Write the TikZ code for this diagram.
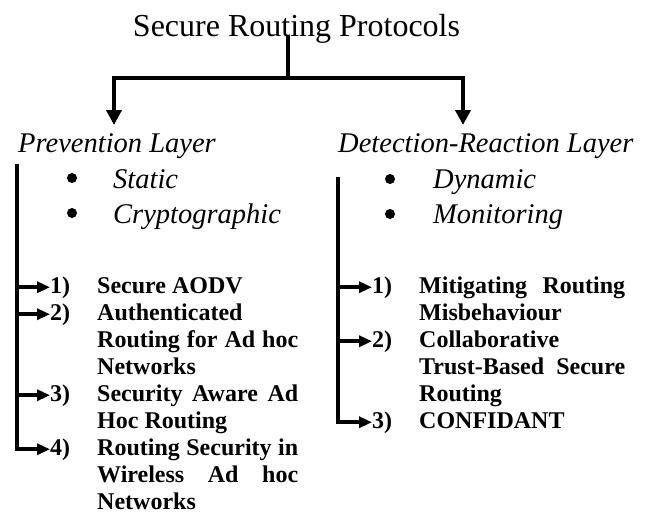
\documentclass[tikz,border=0pt]{standalone}
\usepackage{fontspec}
\setmainfont{Liberation Serif}
\usetikzlibrary{arrows.meta}
\newcommand\leftjust[1]{\makebox[201pt][s]{#1}}
\newcommand\rightjust[1]{\makebox[206pt][s]{#1}}
\begin{document}
\begin{tikzpicture}[x=1pt,y=-1pt,
  bigline/.style={line width=4.5pt},
  bigarrow/.style={line width=4.5pt,line join=miter,-{Triangle[width=15pt,length=15pt]}},
  colline/.style={line width=3.8pt},
  itemarrow/.style={line width=3.5pt,-{Triangle[width=11pt,length=13pt]}},
  titletext/.style={font=\fontsize{32}{36}\selectfont, inner sep=0pt, anchor=base},
  layertext/.style={font=\fontsize{28.5}{32}\selectfont\itshape, inner sep=0pt, anchor=base west},
  feattext/.style={font=\fontsize{28.5}{32}\selectfont\itshape, inner sep=0pt, anchor=base west},
  bulletdot/.style={circle, fill, inner sep=0pt, minimum size=10pt},
  numtext/.style={font=\fontsize{24}{27}\selectfont\bfseries, inner sep=0pt, anchor=base west},
  itemtext/.style={font=\fontsize{24}{27}\selectfont\bfseries, inner sep=0pt, anchor=base west},
]
\useasboundingbox (0,0) rectangle (655,514);

% title and top tree
\node[titletext] (title) at (296.5,36) {Secure Routing Protocols};
\coordinate (stemtop) at (288,35);
\coordinate (junc) at (288,78);
\coordinate (prevtip) at (114,125);
\coordinate (dettip) at (463,125);
\draw[bigline] (stemtop) -- (junc);
\draw[bigarrow] (junc) -| (prevtip);
\draw[bigarrow] (junc) -| (dettip);

% layer labels
\node[layertext] (prev) at (18,152) {Prevention Layer};
\node[layertext] (det) at (338,152) {Detection-Reaction Layer};

% features
\node[bulletdot] (b1) at (72,178) {};
\node[bulletdot] (b2) at (72,213) {};
\node[feattext] (f1) at (113,188) {Static};
\node[feattext] (f2) at (113,223) {Cryptographic};
\node[bulletdot] (b3) at (390,179) {};
\node[bulletdot] (b4) at (390,214) {};
\node[feattext] (f3) at (433,188) {Dynamic};
\node[feattext] (f4) at (433,223) {Monitoring};

% left list
\coordinate (ltop) at (17,164);
\node[numtext] (ln1) at (50,293) {1)};
\node[numtext] (ln2) at (50,320) {2)};
\node[numtext] (ln3) at (50,401) {3)};
\node[numtext] (ln4) at (50,455) {4)};
\node[itemtext] (lt1) at (97,293) {Secure AODV};
\node[itemtext] (lt2) at (97,320) {Authenticated};
\node[itemtext] (lt3) at (97,347) {\leftjust{Routing for Ad hoc}};
\node[itemtext] (lt4) at (97,374) {Networks};
\node[itemtext] (lt5) at (97,401) {\leftjust{Security Aware Ad}};
\node[itemtext] (lt6) at (97,428) {Hoc Routing};
\node[itemtext] (lt7) at (97,455) {\leftjust{Routing Security in}};
\node[itemtext] (lt8) at (97,482) {\leftjust{Wireless Ad hoc}};
\node[itemtext] (lt9) at (97,509) {Networks};
\draw[itemarrow,line join=miter] (ltop) |- (ln4.west);
\draw[itemarrow] (ltop |- ln1.west) -- (ln1.west);
\draw[itemarrow] (ltop |- ln2.west) -- (ln2.west);
\draw[itemarrow] (ltop |- ln3.west) -- (ln3.west);

% right list
\coordinate (rtop) at (338,177);
\node[numtext] (rn1) at (372,293) {1)};
\node[numtext] (rn2) at (372,347) {2)};
\node[numtext] (rn3) at (372,428) {3)};
\node[itemtext] (rt1) at (419,293) {\rightjust{Mitigating Routing}};
\node[itemtext] (rt2) at (419,320) {Misbehaviour};
\node[itemtext] (rt3) at (419,347) {Collaborative};
\node[itemtext] (rt4) at (419,374) {\rightjust{Trust-Based Secure}};
\node[itemtext] (rt5) at (419,401) {Routing};
\node[itemtext] (rt6) at (419,428) {CONFIDANT};
\draw[itemarrow,line join=miter] (rtop) |- (rn3.west);
\draw[itemarrow] (rtop |- rn1.west) -- (rn1.west);
\draw[itemarrow] (rtop |- rn2.west) -- (rn2.west);
\end{tikzpicture}
\end{document}
